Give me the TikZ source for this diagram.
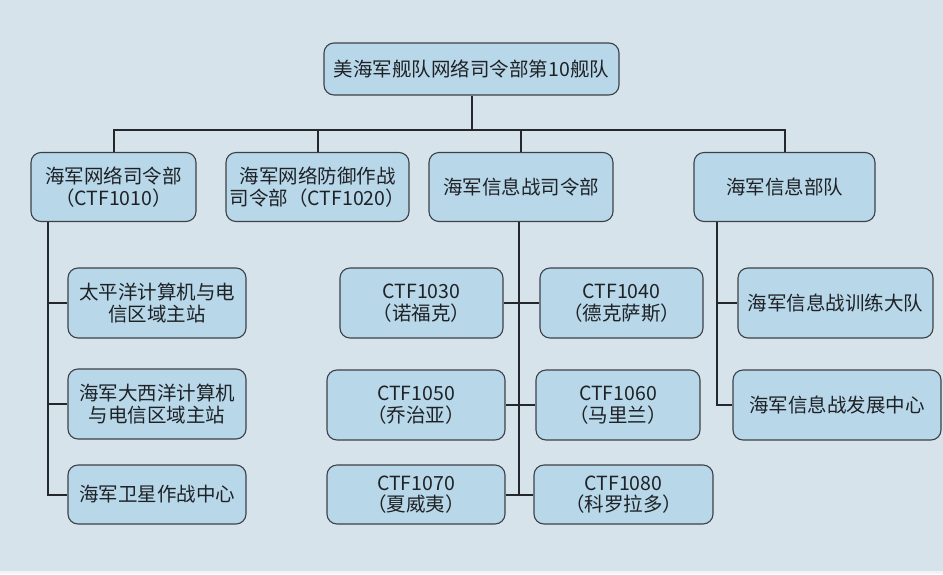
\documentclass[tikz,border=0pt]{standalone}
\usepackage{fontspec}
\setmainfont{Noto Sans CJK SC}
\definecolor{bgc}{HTML}{D7E3EB}
\definecolor{boxc}{HTML}{B8D7E9}
\definecolor{edgec}{HTML}{3C4148}
\definecolor{linec}{HTML}{24272B}
\definecolor{txtc}{HTML}{1E2226}
\begin{document}
\begin{tikzpicture}[x=1pt,y=-1pt,
  orgbox/.style={draw=edgec,line width=1.1pt,fill=boxc,rounded corners=10pt,
    align=center,inner sep=0pt,text=txtc,font=\fontsize{19.5}{21.5}\selectfont},
  link/.style={draw=linec,line width=2pt}]
\fill[bgc] (0,0) rectangle (943,574);
\fill[white!60!bgc] (0,571) rectangle (943,574);
\useasboundingbox (0,0) rectangle (943,574);
% top
\node[orgbox,minimum width=295pt,minimum height=52pt] (top) at (471.5,69) {美海军舰队网络司令部第10舰队};
% row 2
\node[orgbox,minimum width=165pt,minimum height=69pt] (A) at (113.5,187) {海军网络司令部\\（CTF1010）};
\node[orgbox,minimum width=183pt,minimum height=69pt] (B) at (317.5,187) {海军网络防御作战\\司令部（CTF1020）};
\node[orgbox,minimum width=184pt,minimum height=69pt] (C) at (521,187) {海军信息战司令部};
\node[orgbox,minimum width=181pt,minimum height=69pt] (D) at (784.5,187) {海军信息部队};
% A children
\node[orgbox,minimum width=178pt,minimum height=70pt] (A1) at (157,303) {太平洋计算机与电\\信区域主站};
\node[orgbox,minimum width=178pt,minimum height=70pt] (A2) at (157,404) {海军大西洋计算机\\与电信区域主站};
\node[orgbox,minimum width=178pt,minimum height=59pt] (A3) at (157,494.5) {海军卫星作战中心};
% C children
\node[orgbox,minimum width=163pt,minimum height=70pt] (C1) at (421.5,303) {CTF1030\\（诺福克）};
\node[orgbox,minimum width=163pt,minimum height=70pt] (C2) at (621.5,303) {CTF1040\\（德克萨斯）};
\node[orgbox,minimum width=178pt,minimum height=70pt] (C3) at (416,405) {CTF1050\\（乔治亚）};
\node[orgbox,minimum width=164pt,minimum height=70pt] (C4) at (618,405) {CTF1060\\（马里兰）};
\node[orgbox,minimum width=178pt,minimum height=59pt] (C5) at (416,494.5) {CTF1070\\（夏威夷）};
\node[orgbox,minimum width=179pt,minimum height=59pt] (C6) at (623.5,494.5) {CTF1080\\（科罗拉多）};
% D children
\node[orgbox,minimum width=195pt,minimum height=70pt] (D1) at (835.5,303) {海军信息战训练大队};
\node[orgbox,minimum width=208pt,minimum height=70pt] (D2) at (837,405) {海军信息战发展中心};
% helper coordinates
\coordinate (bus) at (0,130);
\coordinate (aX) at (48,0);
\coordinate (cX) at (519,0);
\coordinate (dX) at (717,0);
% connectors
\draw[link] (top.south) -- (top.south |- bus);
\draw[link] (A.north) -- (A.north |- bus) -- (D.north |- bus) -- (D.north);
\draw[link] (B.north) -- (B.north |- bus);
\draw[link] (C.north) -- (C.north |- bus);
\draw[link] (A.south -| aX) |- (A3.west);
\draw[link] (aX |- A1.west) -- (A1.west);
\draw[link] (aX |- A2.west) -- (A2.west);
\draw[link] (C.south -| cX) -- (cX |- C5.east);
\draw[link] (C1.east) -- (C2.west);
\draw[link] (C3.east) -- (C4.west);
\draw[link] (C5.east) -- (C6.west);
\draw[link] (D.south -| dX) |- (D2.west);
\draw[link] (dX |- D1.west) -- (D1.west);
\end{tikzpicture}
\end{document}
